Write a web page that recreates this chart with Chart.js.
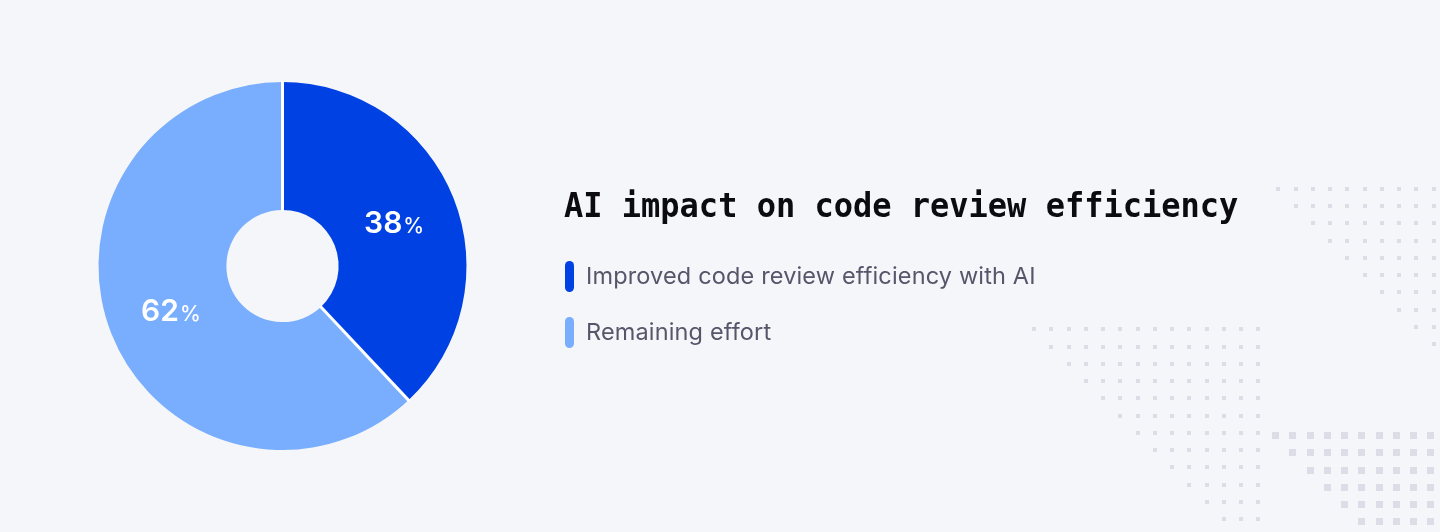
<!DOCTYPE html>
<html>
<head>
<meta charset="utf-8">
<script src="https://cdn.jsdelivr.net/npm/chart.js@4.4.1/dist/chart.umd.min.js"></script>
<style>
  html, body { margin: 0; padding: 0; }
  body {
    width: 1440px; height: 532px; overflow: hidden;
    background: #f5f6fa; position: relative;
    font-family: Inter, "Noto Sans", sans-serif;
  }
  #dots { position: absolute; left: 0; top: 0; }
  #chartBox { position: absolute; left: 0; top: 0; width: 565px; height: 532px; }
  #title {
    position: absolute; left: 564px; top: 190px; margin: 0;
    font-family: "DejaVu Sans Mono", monospace; font-weight: bold;
    font-size: 32px; line-height: 32px; color: #0b0b10; white-space: nowrap;
    transform: scaleY(1.07); transform-origin: 0 27px;
  }
  #legend { position: absolute; left: 565px; top: 260px; }
  .item { display: flex; align-items: center; height: 32px; margin-bottom: 24px; }
  .mark { width: 9px; height: 31px; border-radius: 4.5px; margin-right: 12px; }
  .lbl { font-size: 23.5px; line-height: 32px; letter-spacing: 0.15px; color: #55566a; white-space: nowrap; }
</style>
</head>
<body>
<canvas id="dots" width="1440" height="532"></canvas>
<div id="chartBox"><canvas id="pie"></canvas></div>
<h1 id="title">AI impact on code review efficiency</h1>
<div id="legend"></div>
<script>
const categories = ["Improved code review efficiency with AI", "Remaining effort"];
const shares = [38, 62];
const colors = ["#0041e4", "#78aefd"];

// background dot triangles (decoration only)
(function drawDots() {
  const c = document.getElementById("dots").getContext("2d");
  c.fillStyle = "#dcdde6";
  function tri(x0, y0, cols, rows, size) {
    const step = 17.25;
    for (let r = 0; r < rows; r++) {
      for (let k = r; k < cols; k++) {
        c.fillRect(Math.round(x0 + k * step - size / 2), Math.round(y0 + r * step - size / 2), size, size);
      }
    }
  }
  tri(1278.3, 188.8, 10, 10, 4);
  tri(1034, 329.3, 14, 12, 4);
  tri(1275.7, 435.7, 10, 7, 7);
})();

// legend
const legend = document.getElementById("legend");
categories.forEach((name, i) => {
  const row = document.createElement("div");
  row.className = "item";
  row.innerHTML = `<span class="mark" style="background:${colors[i]}"></span><span class="lbl">${name}</span>`;
  legend.appendChild(row);
});

// white separators between slices + percentage labels
const pieExtras = {
  id: "pieExtras",
  afterDatasetsDraw(chart) {
    const ctx = chart.ctx;
    const meta = chart.getDatasetMeta(0);
    meta.data.forEach(arc => {
      const { x, y, startAngle, innerRadius, outerRadius } = arc.getProps(["x", "y", "startAngle", "innerRadius", "outerRadius"], true);
      ctx.save();
      ctx.strokeStyle = "#ffffff";
      ctx.lineWidth = 3;
      ctx.beginPath();
      ctx.moveTo(x + Math.cos(startAngle) * (innerRadius - 1), y + Math.sin(startAngle) * (innerRadius - 1));
      ctx.lineTo(x + Math.cos(startAngle) * (outerRadius + 1), y + Math.sin(startAngle) * (outerRadius + 1));
      ctx.stroke();
      ctx.restore();
    });
    meta.data.forEach((arc, i) => {
      const p = arc.tooltipPosition();
      const num = String(shares[i]);
      ctx.save();
      ctx.fillStyle = "#ffffff";
      ctx.textBaseline = "alphabetic";
      ctx.font = "600 30px Inter";
      const w1 = ctx.measureText(num).width;
      ctx.font = "500 21px Inter";
      const w2 = ctx.measureText("%").width;
      const x = p.x - (w1 + w2 + 1) / 2;
      const base = p.y + 11;
      ctx.font = "600 30px Inter";
      ctx.fillText(num, x, base);
      ctx.font = "500 21px Inter";
      ctx.fillText("%", x + w1 + 1, base);
      ctx.restore();
    });
  }
};

new Chart(document.getElementById("pie"), {
  type: "doughnut",
  data: {
    labels: categories,
    datasets: [{
      data: shares,
      backgroundColor: colors,
      borderWidth: 0,
      hoverOffset: 0
    }]
  },
  options: {
    responsive: true,
    maintainAspectRatio: false,
    animation: false,
    radius: 184,
    cutout: "30.5%",
    plugins: {
      legend: { display: false },
      tooltip: { enabled: false }
    }
  },
  plugins: [pieExtras]
});
</script>
</body>
</html>
